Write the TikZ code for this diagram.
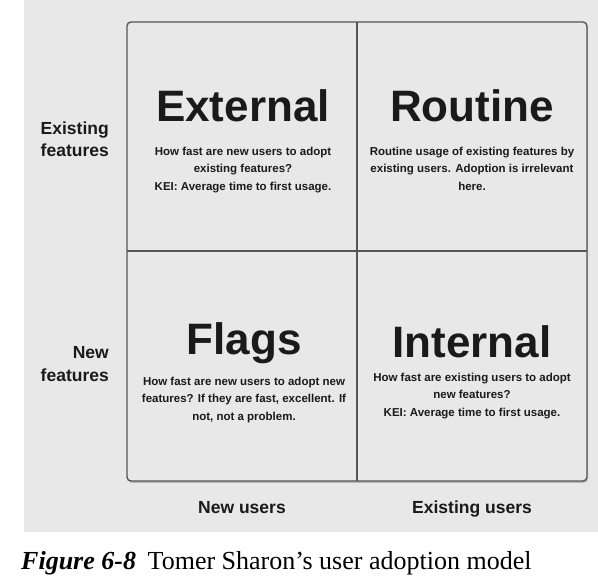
\documentclass[tikz,border=0pt]{standalone}
\usepackage{fontspec}
\setmainfont{Liberation Serif}
\newfontfamily\gridfont{Liberation Sans}
\usetikzlibrary{shadows}

\definecolor{panelgray}{HTML}{E8E8E8}
\definecolor{linegray}{HTML}{555555}
\definecolor{inkgray}{HTML}{1A1A1A}

\begin{document}
\begin{tikzpicture}[x=1pt, y=-1pt,
	title/.style = {font=\gridfont\bfseries\fontsize{44}{50}\selectfont, text=inkgray, inner sep=0pt, anchor=base},
	body/.style = {font=\gridfont\bfseries\fontsize{11.5}{17.5}\selectfont, text=inkgray, align=center, inner sep=0pt, anchor=base},
	axis/.style = {font=\gridfont\bfseries\fontsize{17.5}{22.5}\selectfont, text=inkgray, inner sep=0pt}]

	\useasboundingbox (0,0) rectangle (598,578);
	\fill[panelgray] (24,0) rectangle (598,532);

	% the four quadrants
	\draw[linegray, line width=1.4pt, rounded corners=4pt, fill=panelgray,
		drop shadow={shadow xshift=1pt, shadow yshift=-1.8pt, opacity=0.45}]
		(127,22) rectangle (587,481);
	\coordinate (top) at (357,22);
	\coordinate (bottom) at (357,481);
	\coordinate (left) at (127,251);
	\coordinate (right) at (587,251);
	\draw[linegray, line width=1.2pt] (top) -- (bottom);
	\draw[linegray, line width=1.2pt] (left) -- (right);

	% base of a body node is its last line
	\node[title] (external) at (243,122) {External};
	\node[body] (externaltxt) at (243,190) {How fast are new users to adopt\\existing features?\\KEI: Average time to first usage.};

	\node[title] (routine) at (472,122) {Routine};
	\node[body] (routinetxt) at (472,190) {Routine usage of existing features by\\existing users. Adoption is irrelevant\\here.};

	\node[title] (flags) at (244,354) {Flags};
	\node[body] (flagstxt) at (244,420) {How fast are new users to adopt new\\features? If they are fast, excellent. If\\not, not a problem.};

	\node[title] (internal) at (472,357) {Internal};
	\node[body] (internaltxt) at (472,416) {How fast are existing users to adopt\\new features?\\KEI: Average time to first usage.};

	% axis labels
	\node[axis, align=right, anchor=base east] (existingf) at (109,157) {Existing\\features};
	\node[axis, align=right, anchor=base east] (newf) at (109,381) {New\\features};
	\node[axis, anchor=base] (newu) at (242,513) {New users};
	\node[axis, anchor=base] (existingu) at (472,513) {Existing users};

	% caption
	\node[anchor=base west, inner sep=0pt, font=\fontsize{26}{30}\selectfont] (caption) at (21,569)
		{\textbf{\textit{Figure 6-8}}\hspace{0.45em}Tomer Sharon’s user adoption model};
\end{tikzpicture}
\end{document}
